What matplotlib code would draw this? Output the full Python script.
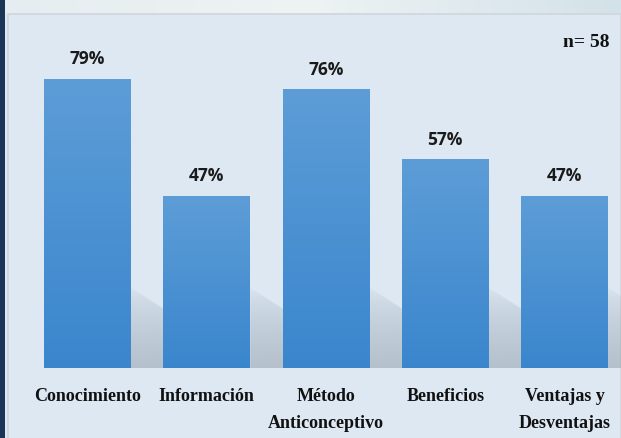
import numpy as np
import matplotlib.pyplot as plt
from matplotlib.patches import Rectangle, Polygon
from matplotlib.colors import LinearSegmentedColormap

categories = ["Conocimiento", "Información", "Método\nAnticonceptivo", "Beneficios", "Ventajas y\nDesventajas"]
values = [79, 47, 76, 57, 47]
value_labels = ["79%", "47%", "76%", "57%", "47%"]
n_label = "n= 58"

fig = plt.figure(figsize=(6.21, 4.38), dpi=100)
fig.patch.set_facecolor("#dde8f3")

# frame pieces, drawn in pixel coords
bg = fig.add_axes([0, 0, 1, 1], zorder=0)
bg.set_xlim(0, 621)
bg.set_ylim(438, 0)
bg.axis("off")
topcm = LinearSegmentedColormap.from_list("t", ["#e6edf0", "#eef3f4", "#d3e2e8"])
bg.imshow(np.linspace(0, 1, 256).reshape(1, -1), extent=(0, 621, 14, 0), cmap=topcm, aspect="auto")
bg.add_patch(Rectangle((8, 14), 613, 430, facecolor="#dde8f3", edgecolor="#cfd6dc", lw=1.2))
bg.add_patch(Rectangle((0, 0), 5, 438, facecolor="#1b3556", edgecolor="none"))

ax = fig.add_axes([0, 0, 1, 1], zorder=1)
ax.patch.set_alpha(0)
px = 119.25
ax.set_xlim(-87.5 / px, (621 - 87.5) / px)
scale = 289 / 79
ax.set_ylim(-70 / scale, (438 - 70) / scale)
ax.axis("off")

w = 87 / px
barcm = LinearSegmentedColormap.from_list("b", ["#5d9dd7", "#3a86cd"])
grad = np.linspace(0, 1, 256).reshape(-1, 1)
shadow = LinearSegmentedColormap.from_list("s", [(0.55, 0.6, 0.65, 0.0), (0.55, 0.6, 0.65, 0.5)])
for i, v in enumerate(values):
    # soft floor shadow to the right of each bar
    x0 = i + w / 2
    sh = Polygon([(x0, 0), (x0, 22), (x0 + 0.33, 15), (x0 + 0.33, 0)],
                 closed=True, facecolor="none", edgecolor="none")
    ax.add_patch(sh)
    im = ax.imshow(np.linspace(0, 1, 64).reshape(-1, 1) ** 0.6, extent=(x0, x0 + 0.33, 0, 22),
                   cmap=shadow, aspect="auto", origin="upper", zorder=1)
    im.set_clip_path(sh)
    ax.imshow(grad, extent=(i - w / 2, i + w / 2, 0, v), cmap=barcm, aspect="auto", origin="upper", zorder=2)
    ax.text(i, v + 3.0, value_labels[i], ha="center", va="bottom", fontsize=12.5,
            fontweight="bold", family="Open Sans", color="#1a1a1a")
    ax.text(i, -5.6, categories[i], ha="center", va="top", fontsize=13,
            fontweight="bold", family="Liberation Serif", linespacing=1.7, color="#111111")

ax.text(4.38, 89, n_label, ha="right", va="center", fontsize=14, fontweight="bold",
        family="Liberation Serif", color="#111111")

plt.savefig("out.png", dpi=100)
